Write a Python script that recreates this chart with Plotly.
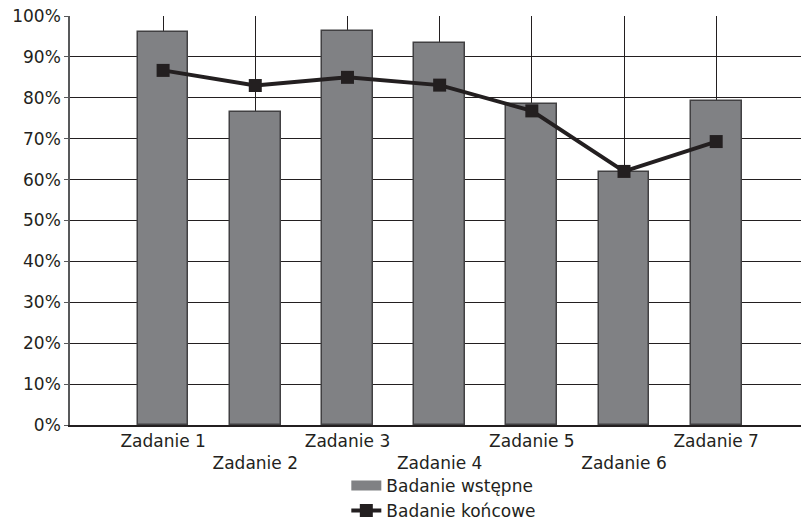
import plotly.graph_objects as go

# Task categories and percentage scores
categories = ["Zadanie 1", "Zadanie 2", "Zadanie 3", "Zadanie 4",
              "Zadanie 5", "Zadanie 6", "Zadanie 7"]
initial_scores = [96.2, 76.6, 96.3, 93.3, 78.6, 61.9, 79.2]   # Badanie wstępne
final_scores = [86.7, 83.0, 85.0, 83.1, 76.8, 62.0, 69.3]     # Badanie końcowe

y_ticks = [0, 10, 20, 30, 40, 50, 60, 70, 80, 90, 100]

# Staggered category labels: every second label drops to a lower line
tick_text = [c if i % 2 == 0 else "<br>" + c for i, c in enumerate(categories)]

FONT = "DejaVu Sans"
DARK = "#231f20"
BAR_FILL = "#808184"
BAR_EDGE = "#414042"

fig = go.Figure()

fig.add_trace(go.Bar(
    x=categories,
    y=initial_scores,
    name="Badanie wstępne",
    width=0.55,
    marker=dict(color=BAR_FILL, line=dict(color=BAR_EDGE, width=1.5)),
    showlegend=False,
))

# Legend entry for the bars, drawn as a wide grey swatch
fig.add_trace(go.Scatter(
    x=[None], y=[None],
    mode="lines",
    name="Badanie wstępne",
    line=dict(color=BAR_FILL, width=11),
    hoverinfo="skip",
))

fig.add_trace(go.Scatter(
    x=categories,
    y=final_scores,
    name="Badanie końcowe",
    mode="lines+markers",
    line=dict(color=DARK, width=4),
    marker=dict(symbol="square", size=13, color=DARK),
))

fig.update_layout(
    width=801,
    height=521,
    margin=dict(l=70, r=0, t=16, b=96, autoexpand=False),
    paper_bgcolor="white",
    plot_bgcolor="white",
    font=dict(family=FONT, size=17, color=DARK),
    legend=dict(
        orientation="v",
        x=0.378, y=-0.105,
        xanchor="left", yanchor="top",
        font=dict(family=FONT, size=17, color=DARK),
        tracegroupgap=0,
        itemsizing="trace",
        bgcolor="rgba(0,0,0,0)",
    ),
    bargap=0,
)

fig.update_xaxes(
    type="category",
    categoryorder="array",
    categoryarray=categories,
    tickvals=categories,
    ticktext=tick_text,
    range=[-1.01, 6.92],
    showgrid=True,
    gridcolor=DARK,
    gridwidth=1,
    showline=True,
    linecolor=DARK,
    linewidth=1.5,
    ticks="",
    tickfont=dict(family=FONT, size=17, color=DARK),
)

fig.update_yaxes(
    range=[0, 100],
    tickvals=y_ticks,
    ticktext=[f"{v}%" for v in y_ticks],
    showgrid=True,
    gridcolor=DARK,
    gridwidth=1,
    zeroline=False,
    showline=True,
    linecolor="#58595b",
    linewidth=1.5,
    ticks="outside",
    ticklen=4,
    tickcolor="#58595b",
    tickfont=dict(family=FONT, size=17, color=DARK),
)

fig.write_html("out.html")
